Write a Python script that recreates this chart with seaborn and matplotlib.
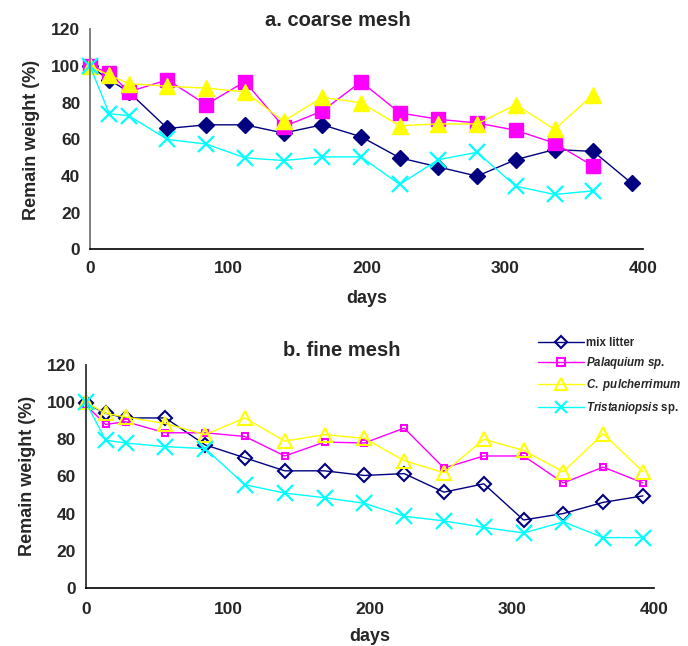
import matplotlib
matplotlib.use("Agg")
import matplotlib.pyplot as plt
import seaborn as sns
import pandas as pd
from matplotlib.lines import Line2D

sns.set_style("white")
plt.rcParams["font.family"] = ["Liberation Sans", "DejaVu Sans"]
plt.rcParams["font.weight"] = "bold"
plt.rcParams["mathtext.fontset"] = "custom"
plt.rcParams["mathtext.it"] = "Liberation Sans:italic:bold"
plt.rcParams["mathtext.rm"] = "Liberation Sans:bold"

# Sampling days
days = [0, 14, 28, 56, 84, 112, 140, 168, 196, 224, 252, 280, 308, 336, 364, 392]

# a. coarse mesh - remaining weight (%)
coarse_mix = [100, 92.5, 86, 66, 68, 68, 63.5, 68, 61.5, 50, 45, 40, 49, 54.5, 53.5, 36]
coarse_palaquium = [100, 96.5, 86, 92.5, 79, 91.5, 67, 75.5, 91.5, 74.5, 71, 69, 65, 58, 45.5]
coarse_pulcherrimum = [100, 95, 90.5, 89, 88, 86, 70, 83, 80, 67.5, 68.5, 68.5, 79, 65.5, 84.5]
coarse_tristaniopsis = [100, 74, 73, 60, 57.5, 50, 48.5, 50.5, 50.5, 35.5, 49, 53, 34.5, 30, 32]

# b. fine mesh - remaining weight (%)
fine_mix = [99.5, 94, 91.5, 91.5, 77, 70, 63, 63, 60.5, 61.5, 51.5, 56, 36.5, 40, 46, 49.5]
fine_palaquium = [98.5, 88, 89.5, 83.5, 83.5, 81.5, 71, 78.5, 78, 86, 64.5, 71, 71, 56.5, 65, 56.5]
fine_pulcherrimum = [100, 94, 92, 88.5, 82.5, 91.5, 79, 82.5, 80.5, 68.5, 62, 80, 74, 62.5, 83, 62.5]
fine_tristaniopsis = [100, 79.5, 78, 76, 75, 55.5, 51, 48.5, 45.5, 38.5, 36, 32.5, 29.5, 35.5, 27, 27]

series_names = ["mix litter", "Palaquium sp.", "C. pulcherrimum", "Tristaniopsis sp."]
legend_labels = ["mix litter", r"$\it{Palaquium\ sp.}$", r"$\it{C.\ pulcherrimum}$",
                 r"$\it{Tristaniopsis}$ sp."]
colors = ["#000080", "#FF00FF", "#FFFF00", "#00FFFF"]
markers = ["D", "s", "^", "x"]

coarse = [coarse_mix, coarse_palaquium, coarse_pulcherrimum, coarse_tristaniopsis]
fine = [fine_mix, fine_palaquium, fine_pulcherrimum, fine_tristaniopsis]

coarse_sizes = [8.5, 9.5, 11, 11]
fine_sizes = [7, 5, 10, 11]

fig = plt.figure(figsize=(6.88, 6.46), dpi=100)
ax1 = fig.add_axes([0.1308, 0.6138, 0.8038, 0.3406])
ax2 = fig.add_axes([0.1246, 0.0902, 0.8265, 0.3447])


def draw(ax, values, sizes, filled):
    for name, vals, c, m, ms in zip(series_names, values, colors, markers, sizes):
        df = pd.DataFrame({"days": days[:len(vals)], "weight": vals})
        if m == "x":
            kw = dict(markeredgecolor=c, markeredgewidth=1.6)
        elif filled:
            kw = dict(markerfacecolor=c, markeredgecolor=c, markeredgewidth=1)
        else:
            kw = dict(markerfacecolor="none", markeredgecolor=c, markeredgewidth=1.5)
        sns.lineplot(data=df, x="days", y="weight", ax=ax, color=c, linewidth=1,
                     marker=m, markersize=ms, estimator=None, sort=False,
                     legend=False, clip_on=False, **kw)


def style_axis(ax, left_color, xpad, xlabelpad):
    ax.set_xlim(0, 400)
    ax.set_ylim(0, 120)
    ax.set_xticks([0, 100, 200, 300, 400])
    ax.set_yticks(range(0, 121, 20))
    for s in ["top", "right"]:
        ax.spines[s].set_visible(False)
    ax.spines["bottom"].set_color("black")
    ax.spines["bottom"].set_linewidth(1.2)
    ax.spines["left"].set_color(left_color)
    ax.spines["left"].set_linewidth(1.4)
    ax.tick_params(axis="y", direction="in", length=4.5, width=1, labelsize=12.5,
                   pad=7, color=left_color)
    ax.tick_params(axis="x", direction="in", length=4.5, width=1, labelsize=12.5,
                   pad=xpad, color="black")
    for lab in ax.get_xticklabels() + ax.get_yticklabels():
        lab.set_fontweight("bold")
    ax.set_xlabel("days", fontsize=13, fontweight="bold", labelpad=xlabelpad)
    ax.set_ylabel("Remain weight (%)", fontsize=13, fontweight="bold", labelpad=8)
    ax.grid(False)


draw(ax1, coarse, coarse_sizes, True)
draw(ax2, fine, fine_sizes, False)
style_axis(ax1, "#808080", 8, 10.5)
style_axis(ax2, "#404040", 10, 8.5)

fig.text(338 / 688, 1 - 20 / 646, "a. coarse mesh", fontsize=14.5, fontweight="bold",
         ha="center", va="center")
fig.text(342 / 688, 1 - 350 / 646, "b. fine mesh", fontsize=14.5, fontweight="bold",
         ha="center", va="center")

handles = []
for c, m, ms in zip(colors, markers, [6, 6, 8, 8]):
    if m == "x":
        h = Line2D([], [], color=c, lw=1, marker=m, markersize=ms, markeredgewidth=1.5)
    else:
        h = Line2D([], [], color=c, lw=1, marker=m, markersize=ms,
                   markerfacecolor="none", markeredgecolor=c, markeredgewidth=1.5)
    handles.append(h)

fig.legend(handles, legend_labels, loc="upper left", bbox_to_anchor=(0.775, 0.486),
           frameon=False, fontsize=8.3, handlelength=4.0, handletextpad=0.2,
           labelspacing=0.55, borderaxespad=0)

fig.savefig("out.png", dpi=100)
